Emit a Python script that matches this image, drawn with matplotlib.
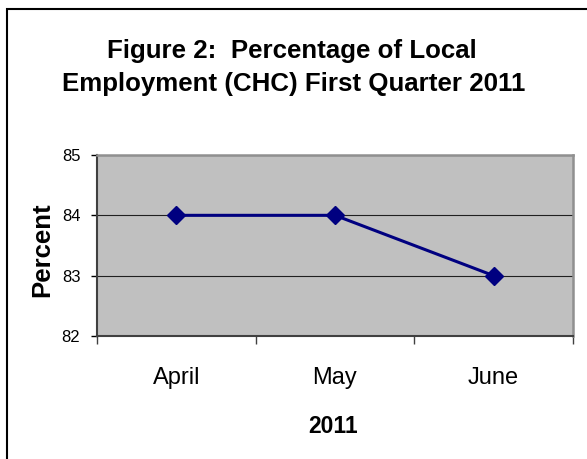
import matplotlib.pyplot as plt
from matplotlib.patches import Rectangle
from matplotlib.ticker import FixedLocator

months = ['April', 'May', 'June']
percent = [84, 84, 83]
y_ticks = [82, 83, 84, 85]

body_font = ['Liberation Sans', 'DejaVu Sans']

fig = plt.figure(figsize=(5.87, 4.59), dpi=100)
fig.patch.set_facecolor('white')

# outer chart border (only top and left fall inside the image)
fig.patches.append(Rectangle((7 / 587, -0.05), 1.2, 1 - 9 / 459 + 0.05,
                             transform=fig.transFigure, fill=False,
                             edgecolor='black', linewidth=1.5))

ax = fig.add_axes([97 / 587, 1 - 336 / 459, 476 / 587, 181 / 459])
ax.set_facecolor('#C0C0C0')

x = list(range(len(months)))
ax.plot(x, percent, color='#000080', linewidth=2.2, marker='D',
        markersize=9, markerfacecolor='#000080', markeredgecolor='#000080',
        zorder=3)

ax.set_xlim(-0.5, len(months) - 0.5)
ax.set_ylim(y_ticks[0], y_ticks[-1])
ax.set_yticks(y_ticks)
ax.yaxis.grid(True, color='#202020', linewidth=0.8)
ax.set_axisbelow(True)

ax.set_xticks(x)
ax.set_xticklabels(months, fontsize=17, family=body_font)
ax.tick_params(axis='x', which='major', length=0, pad=22)
ax.xaxis.set_minor_locator(FixedLocator([i + 0.5 for i in range(-1, len(months))]))
ax.tick_params(axis='x', which='minor', length=6, width=1, color='#404040')
ax.tick_params(axis='y', length=4, width=1, pad=8, labelsize=12)
for lab in ax.get_yticklabels():
    lab.set_family(body_font)

for side in ['top', 'right']:
    ax.spines[side].set_color('#909090')
    ax.spines[side].set_linewidth(1.8)
for side in ['left', 'bottom']:
    ax.spines[side].set_color('#404040')
    ax.spines[side].set_linewidth(1.5)

fig.text(42 / 587, 1 - 250 / 459, 'Percent', rotation=90, ha='center',
         va='center', fontsize=18.5, fontweight='bold', family=body_font)
fig.text(333 / 587, 1 - 433 / 459, '2011', ha='center', va='baseline',
         fontsize=16.5, fontweight='bold', family=body_font)

fig.text(292 / 587, 1 - 58 / 459, 'Figure 2:  Percentage of Local', ha='center',
         va='baseline', fontsize=18.6, fontweight='bold', family=body_font)
fig.text(294 / 587, 1 - 91 / 459, 'Employment (CHC) First Quarter 2011',
         ha='center', va='baseline', fontsize=18.6, fontweight='bold',
         family=body_font)

fig.savefig('out.png', dpi=100)
